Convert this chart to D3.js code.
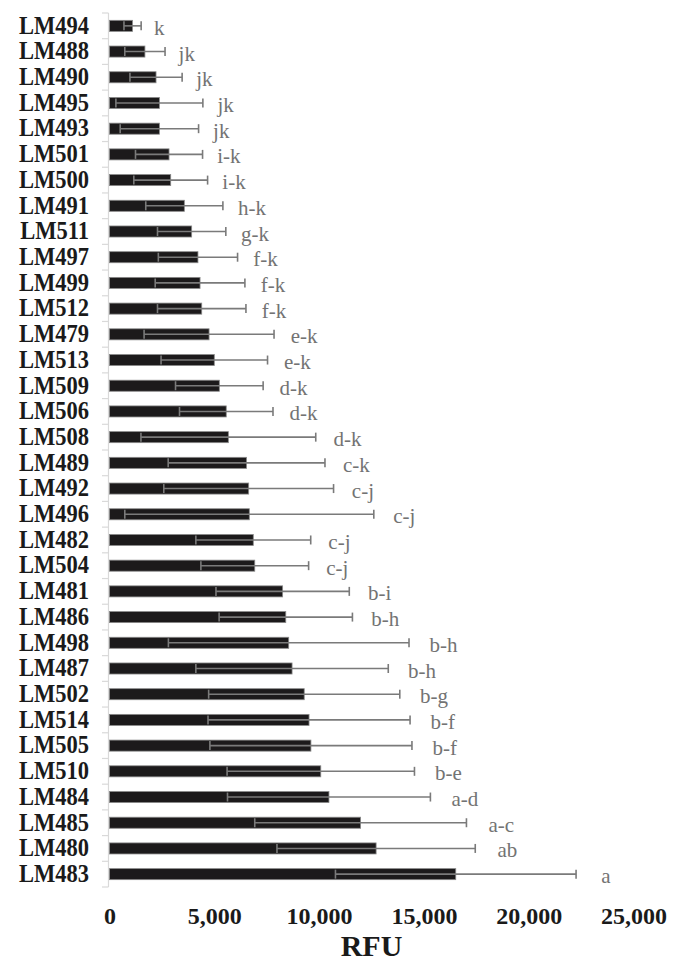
<!DOCTYPE html>
<html>
<head>
<meta charset="utf-8">
<script src="https://d3js.org/d3.v7.min.js"></script>
<style>
  body { margin: 0; background: #fff; }
  text { font-family: "Liberation Serif", "Times New Roman", serif; }
</style>
</head>
<body>
<svg width="683" height="964"></svg>
<script>
// strains, top to bottom
var strains = ["LM494", "LM488", "LM490", "LM495", "LM493", "LM501", "LM500", "LM491",
    "LM511", "LM497", "LM499", "LM512", "LM479", "LM513", "LM509", "LM506", "LM508",
    "LM489", "LM492", "LM496", "LM482", "LM504", "LM481", "LM486", "LM498", "LM487",
    "LM502", "LM514", "LM505", "LM510", "LM484", "LM485", "LM480", "LM483"];

// mean RFU per strain
var meanRFU = [1100, 1690, 2220, 2380, 2380, 2840, 2920, 3570,
    3920, 4220, 4320, 4400, 4750, 5000, 5240, 5570, 5670,
    6540, 6640, 6670, 6860, 6930, 8260, 8410, 8550, 8710,
    9290, 9520, 9610, 10080, 10470, 11980, 12720, 16520];

// standard deviation per strain
var sdRFU = [410, 960, 1245, 2075, 1870, 1600, 1760, 1840,
    1630, 1890, 2140, 2110, 3100, 2540, 2090, 2230, 4170,
    3740, 4050, 5940, 2740, 2570, 3180, 3180, 5740, 4590,
    4560, 4820, 4820, 4470, 4840, 5050, 4730, 5740];

// significance letters
var groups = ["k", "jk", "jk", "jk", "jk", "i-k", "i-k", "h-k",
    "g-k", "f-k", "f-k", "f-k", "e-k", "e-k", "d-k", "d-k", "d-k",
    "c-k", "c-j", "c-j", "c-j", "c-j", "b-i", "b-h", "b-h", "b-h",
    "b-g", "b-f", "b-f", "b-e", "a-d", "a-c", "ab", "a"];

var xTicks = [0, 5000, 10000, 15000, 20000, 25000];

var svg = d3.select("svg");

var x = d3.scaleLinear()
    .domain([0, 25000])
    .range([109.5, 633.5]);

var y = d3.scaleBand()
    .domain(strains)
    .range([13, 887])
    .paddingInner(0.57)
    .paddingOuter(0.285);

var rows = strains.map(function (s, i) {
    return { name: s, mean: meanRFU[i], sd: sdRFU[i], grp: groups[i] };
});

// y axis line with ticks between categories
svg.append("line")
    .attr("x1", 108.5).attr("x2", 108.5)
    .attr("y1", y.range()[0]).attr("y2", y.range()[1])
    .attr("stroke", "#d9d9d9").attr("stroke-width", 1.2);

svg.append("g")
    .selectAll("line")
    .data(d3.range(strains.length + 1))
    .enter()
    .append("line")
    .attr("x1", 102).attr("x2", 108.5)
    .attr("y1", function (i) { return y.range()[0] + i * y.step(); })
    .attr("y2", function (i) { return y.range()[0] + i * y.step(); })
    .attr("stroke", "#d9d9d9").attr("stroke-width", 1.2);

// category labels
svg.append("g")
    .selectAll("text")
    .data(rows)
    .enter()
    .append("text")
    .attr("transform", function (d) {
        return "translate(89," + (y(d.name) + y.bandwidth() / 2 + 7.8) + ") scale(0.92,1)";
    })
    .attr("text-anchor", "end")
    .style("font-size", "24.5px")
    .style("font-weight", "bold")
    .attr("fill", "#1a1a1a")
    .text(function (d) { return d.name; });

// bars
svg.append("g")
    .selectAll("rect")
    .data(rows)
    .enter()
    .append("rect")
    .attr("x", x(0))
    .attr("y", function (d) { return y(d.name); })
    .attr("width", function (d) { return x(d.mean) - x(0); })
    .attr("height", y.bandwidth())
    .attr("fill", "#1c1a1b")
    .attr("stroke", "#8a8a8a")
    .attr("stroke-width", 0.8);

// error bars
var err = svg.append("g")
    .attr("stroke", "#7a7a7a")
    .attr("stroke-width", 1.6);

rows.forEach(function (d) {
    var cy = y(d.name) + y.bandwidth() / 2;
    var lo = x(d.mean - d.sd), hi = x(d.mean + d.sd);
    err.append("line").attr("x1", lo).attr("x2", hi).attr("y1", cy).attr("y2", cy);
    err.append("line").attr("x1", lo).attr("x2", lo).attr("y1", cy - 4.5).attr("y2", cy + 4.5);
    err.append("line").attr("x1", hi).attr("x2", hi).attr("y1", cy - 4.5).attr("y2", cy + 4.5);
});

// significance letters
svg.append("g")
    .selectAll("text")
    .data(rows)
    .enter()
    .append("text")
    .attr("x", function (d) {
        var hi = x(d.mean + d.sd);
        return hi + 12 + 0.028 * (hi - x(0));
    })
    .attr("y", function (d) { return y(d.name) + y.bandwidth() / 2 + 9; })
    .style("font-size", "21px")
    .attr("fill", "#737373")
    .text(function (d) { return d.grp; });

// x axis
svg.append("g")
    .attr("transform", "translate(0,887)")
    .call(d3.axisBottom(x).tickValues(xTicks).tickSize(0).tickFormat(d3.format(",")))
    .call(function (g) { g.select(".domain").remove(); })
    .call(function (g) {
        g.selectAll("text")
            .attr("y", 37)
            .attr("dy", null)
            .attr("fill", "#1a1a1a")
            .style("font-family", "'Liberation Serif', 'Times New Roman', serif")
            .style("font-size", "24px")
            .style("font-weight", "bold");
    });

svg.append("text")
    .attr("x", (x.range()[0] + x.range()[1]) / 2)
    .attr("y", 956)
    .attr("text-anchor", "middle")
    .style("font-size", "30px")
    .style("font-weight", "bold")
    .attr("fill", "#1a1a1a")
    .text("RFU");
</script>
</body>
</html>
